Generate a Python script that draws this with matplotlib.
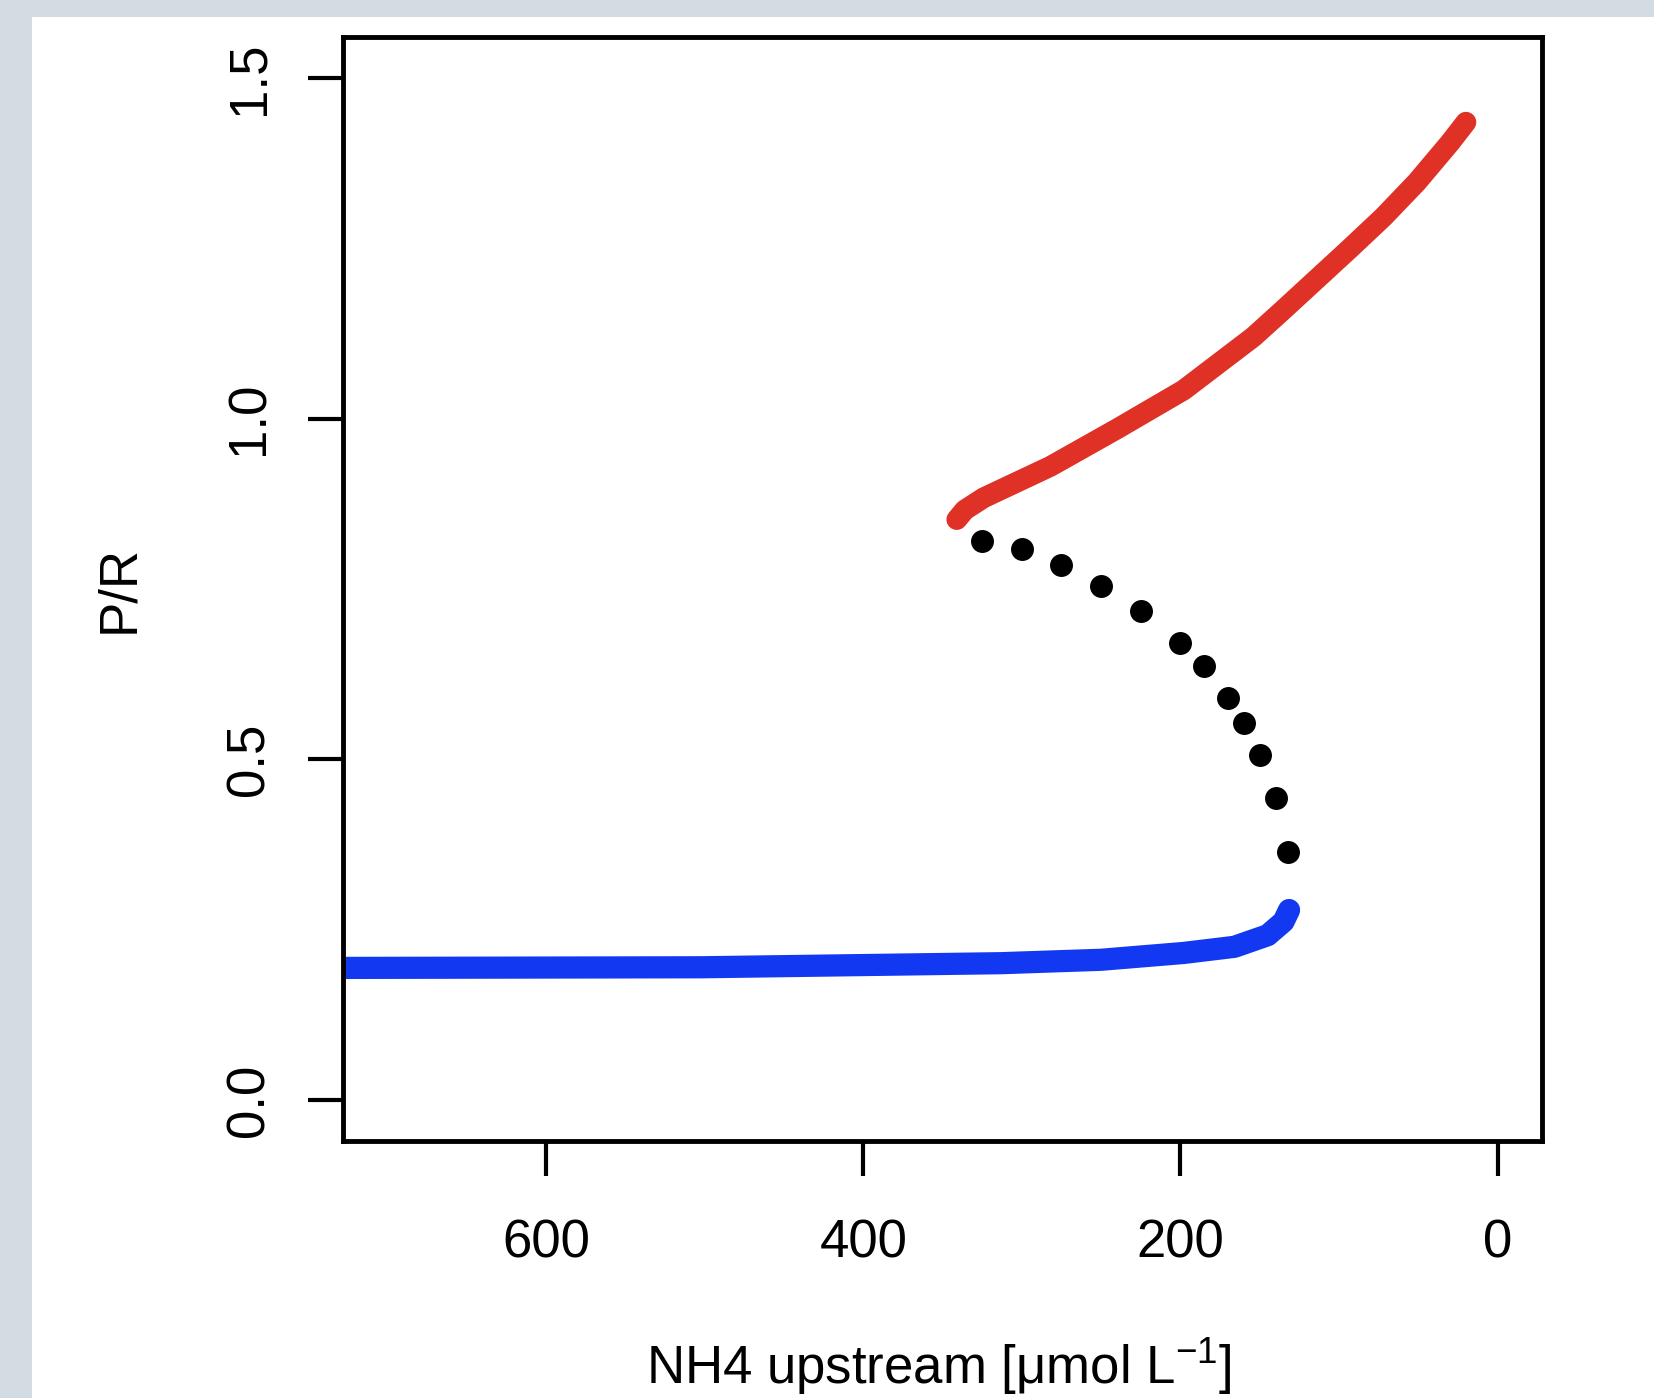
import matplotlib
matplotlib.use('Agg')
import matplotlib.pyplot as plt
from matplotlib.patches import Rectangle

plt.rcParams['font.family'] = ['Liberation Sans', 'DejaVu Sans']
plt.rcParams['mathtext.fontset'] = 'custom'
plt.rcParams['mathtext.rm'] = 'Liberation Sans'
plt.rcParams['mathtext.default'] = 'regular'

# upper stable branch (red)
red_x = [341, 336, 324, 282, 240, 198, 154, 135, 114, 93, 72, 51, 30, 20]
red_y = [0.852, 0.866, 0.884, 0.930, 0.985, 1.042, 1.120, 1.160, 1.205, 1.250, 1.296, 1.347, 1.405, 1.435]

# lower stable branch (blue)
blue_x = [740, 502, 313, 250, 198, 166, 145, 135, 131.5]
blue_y = [0.194, 0.195, 0.201, 0.206, 0.216, 0.225, 0.242, 0.262, 0.279]

# unstable branch (black dots)
dots_x = [325, 300, 275, 250, 225, 200, 185, 170, 160, 150, 140, 132]
dots_y = [0.820, 0.809, 0.785, 0.754, 0.718, 0.671, 0.637, 0.590, 0.553, 0.506, 0.444, 0.364]

xticks = [600, 400, 200, 0]
yticks = [0.0, 0.5, 1.0, 1.5]

fig = plt.figure(figsize=(16.54, 13.98), dpi=100)
fig.patch.set_facecolor('#d3dbe3')
fig.patches.append(Rectangle((32/1654, 0), 1, 1 - 17/1398, transform=fig.transFigure,
                             facecolor='white', edgecolor='none', zorder=-10))

ax = fig.add_axes([0.2074, 0.1838, 0.7249, 0.7897])
ax.set_facecolor('white')

ax.plot(blue_x, blue_y, color='#1238f2', lw=16, solid_capstyle='round', solid_joinstyle='round')
ax.plot(red_x, red_y, color='#e03127', lw=15, solid_capstyle='round', solid_joinstyle='round')
ax.plot(dots_x, dots_y, 'o', color='black', ms=15.5, lw=0)

ax.set_xlim(728, -28)
ax.set_ylim(-0.06, 1.56)

ax.set_xticks(xticks)
ax.set_xticklabels([str(v) for v in xticks])
ax.set_yticks(yticks)
ax.set_yticklabels(['%.1f' % v for v in yticks], rotation=90, va='center')

for s in ax.spines.values():
    s.set_linewidth(3.5)
ax.tick_params(axis='both', length=25, width=3, labelsize=38, direction='out')
ax.tick_params(axis='x', pad=31)
ax.tick_params(axis='y', pad=24)

ax.set_xlabel(r'NH4 upstream [μmol L$^{-1}$]', fontsize=38, va='center')
ax.xaxis.set_label_coords(0.497, -0.204)
ax.set_ylabel('P/R', fontsize=38, va='center')
ax.yaxis.set_label_coords(-0.187, 0.5)

fig.savefig('out.png', dpi=100, facecolor=fig.get_facecolor())
